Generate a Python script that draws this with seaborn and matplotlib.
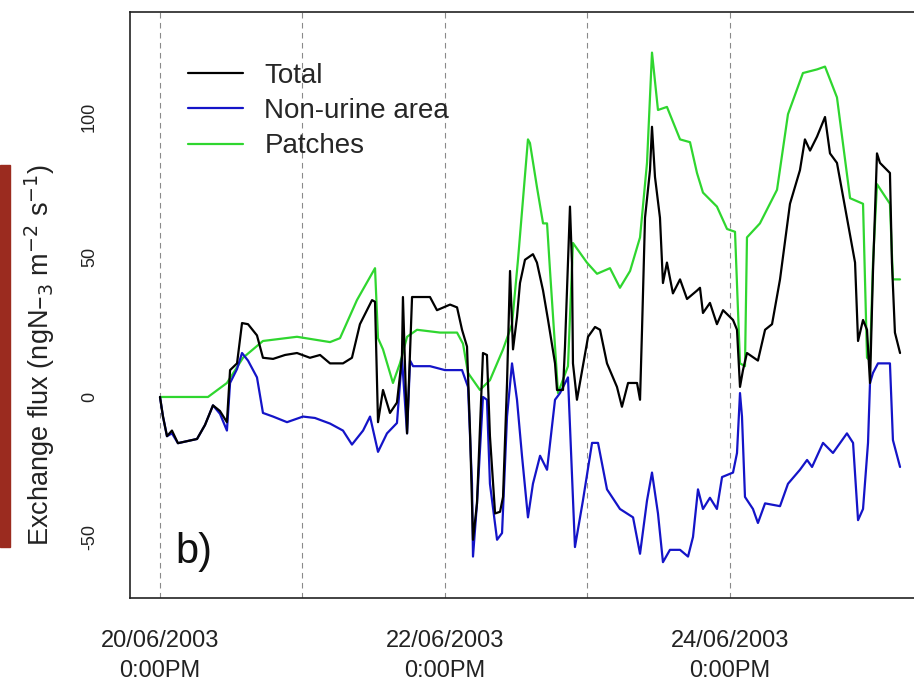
import numpy as np
import pandas as pd
import matplotlib
matplotlib.use("Agg")
import matplotlib.pyplot as plt
from matplotlib.lines import Line2D
from matplotlib.patches import Rectangle
import seaborn as sns

# ---------------- data (days since 20/06/2003 12:00) ----------------
total_day = [0.0, 0.021, 0.049, 0.084, 0.126, 0.260, 0.316, 0.372, 0.421, 0.470,
             0.492, 0.541, 0.576, 0.618, 0.681, 0.723, 0.794, 0.878, 0.962, 1.053,
             1.124, 1.194, 1.285, 1.348, 1.404, 1.489, 1.510, 1.531, 1.566, 1.615,
             1.664, 1.699, 1.706, 1.735, 1.770, 1.896, 1.945, 2.037, 2.086, 2.121,
             2.156, 2.177, 2.198, 2.226, 2.268, 2.296, 2.317, 2.353, 2.388, 2.409,
             2.437, 2.458, 2.479, 2.507, 2.528, 2.563, 2.619, 2.647, 2.690, 2.725,
             2.774, 2.788, 2.830, 2.844, 2.879, 2.893, 2.900, 2.928, 3.006, 3.055,
             3.090, 3.139, 3.209, 3.244, 3.287, 3.350, 3.371, 3.385, 3.406, 3.441,
             3.455, 3.476, 3.511, 3.532, 3.560, 3.602, 3.652, 3.701, 3.771, 3.792,
             3.813, 3.862, 3.911, 3.954, 4.024, 4.052, 4.073, 4.094, 4.122, 4.199,
             4.249, 4.298, 4.354, 4.424, 4.494, 4.529, 4.565, 4.614, 4.670, 4.705,
             4.754, 4.824, 4.881, 4.902, 4.937, 4.965, 4.986, 5.007, 5.035, 5.056,
             5.126, 5.140, 5.161, 5.197]
total_val = [0, -7, -14, -12, -16.5, -15, -10, -3, -5, -9,
             9.6, 12, 26.4, 26, 22, 14, 13.6, 15, 15.7, 14,
             15, 12, 12, 14, 26, 34.6, 34, -9, 2.5, -5.7,
             -2, 14, 35.7, -13, 35.7, 35.7, 31, 33, 32, 24,
             18, -12, -51, -38, 15.7, 15, -14, -41.6, -41, -35.7,
             5, 45, 17, 28.6, 40.7, 49, 51, 48, 38, 27.5,
             12, 2.5, 2.5, 18, 68, 48, 12, -1, 21.5, 25,
             24, 12, 3.6, -3.5, 5, 5, -1, 24, 64, 81,
             96.5, 78.6, 64, 40.7, 48, 37, 42, 35, 38, 39,
             30, 33.6, 26, 31, 27.5, 24, 3.6, 9.6, 15.7, 13,
             24, 26, 42, 69, 81, 92, 88, 93, 100, 87,
             83.6, 64, 48, 20, 27.5, 24, 5, 45, 87, 83.6,
             80, 48, 23, 15.7]

nonurine_day = [0.0, 0.021, 0.049, 0.084, 0.126, 0.260, 0.316, 0.372, 0.421, 0.470,
                0.492, 0.541, 0.576, 0.618, 0.681, 0.723, 0.794, 0.892, 1.004, 1.088,
                1.194, 1.285, 1.348, 1.426, 1.475, 1.531, 1.594, 1.664, 1.699, 1.735,
                1.756, 1.777, 1.896, 2.001, 2.121, 2.163, 2.191, 2.198, 2.226, 2.268,
                2.296, 2.317, 2.367, 2.402, 2.437, 2.472, 2.507, 2.542, 2.584, 2.619,
                2.669, 2.718, 2.774, 2.809, 2.865, 2.914, 2.970, 3.034, 3.076, 3.139,
                3.230, 3.322, 3.371, 3.420, 3.455, 3.497, 3.532, 3.581, 3.652, 3.708,
                3.743, 3.778, 3.813, 3.862, 3.911, 3.947, 4.024, 4.052, 4.073, 4.087,
                4.108, 4.164, 4.199, 4.249, 4.354, 4.410, 4.494, 4.544, 4.579, 4.656,
                4.726, 4.824, 4.867, 4.902, 4.937, 4.972, 4.986, 5.007, 5.042, 5.126,
                5.147, 5.197]
nonurine_val = [0, -7, -14, -13, -16.5, -15, -10, -3, -6, -12,
                5, 10, 15.7, 13, 7, -5.7, -7, -9, -7, -7.5,
                -9.5, -12, -17, -12, -7, -19.6, -13, -9.3, 14, -13,
                13, 11, 11, 9.6, 9.6, 3.6, -31, -57, -38, 0,
                -1, -31, -51, -48.6, -7, 12, -1, -21, -43, -31,
                -21, -26, -1, 1.4, 7, -53.6, -37, -16.4, -16.4, -33,
                -40, -43, -56, -37, -27, -41.6, -59, -54.6, -54.6, -57,
                -50, -33, -40, -36, -40, -28.6, -27, -20, 1.4, -7,
                -35.7, -40, -45, -38, -39, -31, -26, -22.5, -25, -16.4,
                -20, -13, -16.4, -44, -40, -16.4, 5, 8.6, 12, 12,
                -15.4, -25]

patches_day = [0.0, 0.337, 0.470, 0.583, 0.723, 0.962, 1.194, 1.264, 1.383, 1.510,
               1.531, 1.566, 1.636, 1.685, 1.735, 1.805, 1.966, 2.086, 2.128, 2.163,
               2.247, 2.317, 2.409, 2.472, 2.514, 2.584, 2.598, 2.647, 2.690, 2.718,
               2.739, 2.774, 2.795, 2.865, 2.900, 2.998, 3.069, 3.160, 3.230, 3.301,
               3.371, 3.420, 3.455, 3.497, 3.560, 3.652, 3.722, 3.771, 3.813, 3.911,
               3.982, 4.038, 4.073, 4.108, 4.122, 4.213, 4.333, 4.410, 4.515, 4.614,
               4.670, 4.754, 4.846, 4.937, 4.965, 4.986, 5.007, 5.035, 5.126, 5.147,
               5.197]
patches_val = [0, 0, 5, 14, 20, 21.5, 19.6, 21, 34.6, 46,
               21, 17, 5, 12, 21.5, 24, 23, 23, 19, 8.6,
               2.5, 6, 17, 26, 49, 92, 90.7, 75, 62, 62,
               45, 18, 1.4, 11, 55, 48, 44, 46, 39, 45,
               57, 83.6, 123, 102.5, 103.6, 92, 91, 80, 73, 68,
               60, 59, 12, 11, 57, 62, 74, 101, 115.7, 117,
               118, 107, 71, 69, 14, 13, 48, 76, 69, 42,
               42]

series_names = ["Total", "Non-urine area", "Patches"]
series_colors = ["#000000", "#1414c8", "#2fd62f"]
tick_days = [0, 1, 2, 3, 4]
tick_labels = ["20/06/2003\n0:00PM", "", "22/06/2003\n0:00PM", "", "24/06/2003\n0:00PM"]
ytick_vals = [-50, 0, 50, 100]
ytick_labels = ["-50", "0", "50", "100"]

df = pd.concat([
    pd.DataFrame({"day": total_day, "flux": total_val, "series": series_names[0]}),
    pd.DataFrame({"day": nonurine_day, "flux": nonurine_val, "series": series_names[1]}),
    pd.DataFrame({"day": patches_day, "flux": patches_val, "series": series_names[2]}),
], ignore_index=True)

# ---------------- plot ----------------
sns.set_style("white")
plt.rcParams["font.family"] = ["Liberation Sans", "DejaVu Sans"]

fig = plt.figure(figsize=(9.14, 6.85), dpi=100)
ax = fig.add_axes([130 / 914, 87 / 685, 800 / 914, 586 / 685])

for d in tick_days:
    ax.axvline(d, color="#8a8a8a", lw=0.8, ls=(0, (5, 4)), zorder=1)

# draw order: Patches first, then Non-urine, then Total on top
draw_order = [series_names[2], series_names[1], series_names[0]]
palette = dict(zip(series_names, series_colors))
for name in draw_order:
    sns.lineplot(data=df[df["series"] == name], x="day", y="flux", color=palette[name],
                 estimator=None, sort=False, lw=1.6, ax=ax, legend=False, zorder=3)

ax.set_xlim((130 - 160) / 142.4, (930 - 160) / 142.4)
ax.set_ylim(-71.8, 137.5)

ax.set_xticks(tick_days)
ax.set_xticklabels(tick_labels, fontsize=17, color="#222222")
for t in ax.get_xticklabels():
    t.set_linespacing(1.5)
ax.set_yticks(ytick_vals)
ax.set_yticklabels(ytick_labels, rotation=90, va="center", fontsize=13, color="#222222")
ax.tick_params(axis="x", length=10, width=1.1, pad=13, color="#222222", direction="out")
ax.tick_params(axis="y", length=10, width=1.1, pad=13, color="#222222", direction="out")
ax.set_xlabel("")
ax.set_ylabel("")

for s in ["left", "bottom", "top"]:
    ax.spines[s].set_color("#222222")
    ax.spines[s].set_linewidth(1.2)
ax.spines["right"].set_visible(False)

handles = [Line2D([0], [0], color=c, lw=1.6) for c in series_colors]
ax.legend(handles, series_names, loc="upper left", frameon=False, fontsize=20,
          handlelength=2.0, handletextpad=0.75, labelspacing=0.33, borderpad=0,
          bbox_to_anchor=(174 / 914, 1 - 49 / 685), bbox_transform=fig.transFigure)

ax.text(175 / 914, 1 - 563 / 685, "b)", transform=fig.transFigure, fontsize=30,
        ha="left", va="baseline", color="#111111")

fig.text(40 / 914, 1 - 355 / 685, "Exchange flux (ngN\u2013$_3$ m$^{-2}$ s$^{-1}$)",
         rotation=90, ha="center", va="center", fontsize=19.5, color="#222222")

fig.add_artist(Rectangle((0, 1 - 547 / 685), 10 / 914, 382 / 685,
                         transform=fig.transFigure, color="#9b2b1f", zorder=0))

fig.savefig("out.png", dpi=100)
